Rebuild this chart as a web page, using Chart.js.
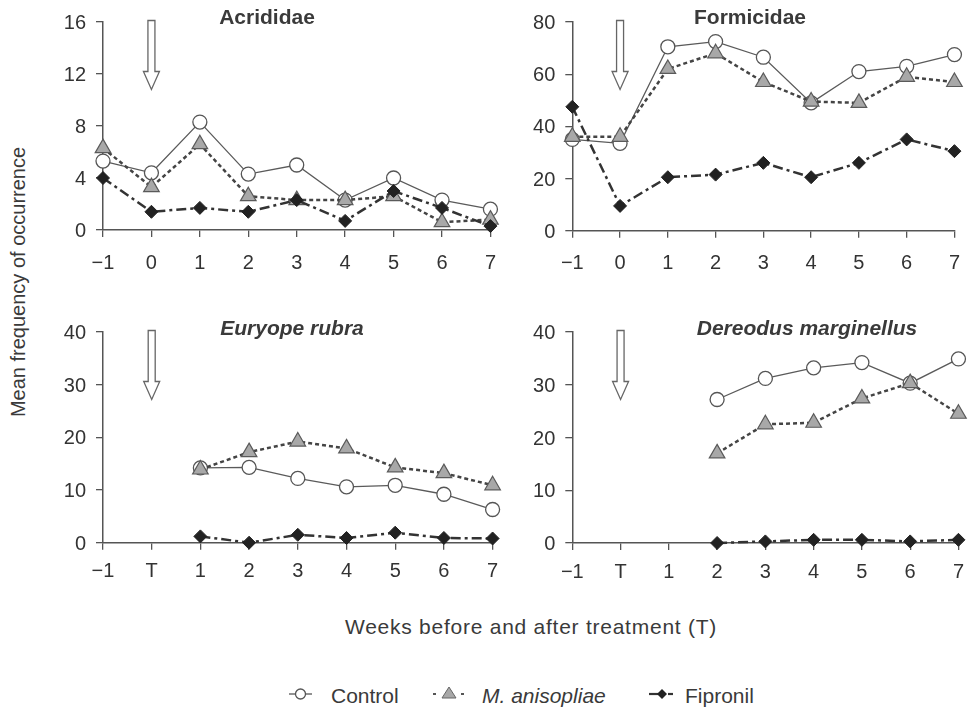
<!DOCTYPE html>
<html><head><meta charset="utf-8">
<script src="https://cdn.jsdelivr.net/npm/chart.js@4"></script>
<style>
html,body{margin:0;padding:0;background:#fff;}
#wrap{position:relative;width:974px;height:708px;overflow:hidden;font-family:"Liberation Sans",Arial,Helvetica,sans-serif;color:#3a3a3a;}
.pane{position:absolute;}
.ttl{position:absolute;font-weight:bold;font-size:21px;line-height:1;white-space:nowrap;transform:translate(-50%,-50%);}
.it{font-style:italic;}
.txt{position:absolute;font-size:21px;line-height:1;white-space:nowrap;transform:translateY(-50%);}
svg{position:absolute;overflow:visible;}
</style></head>
<body><div id="wrap">
<div class="pane" style="left:30px;top:0px;"><canvas id="c1" width="480" height="290"></canvas></div>
<div class="pane" style="left:500px;top:0px;"><canvas id="c2" width="474" height="290"></canvas></div>
<div class="pane" style="left:30px;top:310px;"><canvas id="c3" width="480" height="290"></canvas></div>
<div class="pane" style="left:500px;top:310px;"><canvas id="c4" width="474" height="290"></canvas></div>

<div class="ttl" style="left:267px;top:16px;">Acrididae</div>
<div class="ttl" style="left:750px;top:16px;">Formicidae</div>
<div class="ttl it" style="left:292px;top:327px;">Euryope rubra</div>
<div class="ttl it" style="left:807px;top:327px;">Dereodus marginellus</div>

<div class="txt" style="left:18px;top:282px;transform:translate(-50%,-50%) rotate(-90deg);font-size:20px;">Mean frequency of occurrence</div>
<div class="txt" style="left:531px;top:626px;transform:translate(-50%,-50%);letter-spacing:0.75px;">Weeks before and after treatment (T)</div>

<svg style="left:289px;top:684px;" width="24" height="20"><line x1="0" y1="10" x2="23" y2="10" stroke="#555" stroke-width="1.3"/><circle cx="11.5" cy="10" r="5" fill="#fff" stroke="#555" stroke-width="1.3"/></svg>
<div class="txt" style="left:331px;top:695px;">Control</div>
<svg style="left:431px;top:684px;" width="36" height="20"><line x1="2" y1="10" x2="5" y2="10" stroke="#555" stroke-width="2"/><polygon points="18,3 25,14 11,14" fill="#a8a8a8" stroke="#666" stroke-width="1"/><line x1="30" y1="10" x2="33" y2="10" stroke="#555" stroke-width="2"/></svg>
<div class="txt it" style="left:482px;top:695px;">M. anisopliae</div>
<svg style="left:649px;top:684px;" width="26" height="20"><line x1="0" y1="10" x2="12" y2="10" stroke="#333" stroke-width="2.2"/><polygon points="13,5 18,10 13,15 8,10" fill="#222"/><line x1="19" y1="10" x2="24" y2="10" stroke="#333" stroke-width="2.2"/></svg>
<div class="txt" style="left:685px;top:695px;">Fipronil</div>
</div>
<script>
// ---- data ----
const weeksTop = ['\u22121','0','1','2','3','4','5','6','7'];
const weeksBottom = ['\u22121','T','1','2','3','4','5','6','7'];

const acrControl = [5.3, 4.4, 8.3, 4.3, 5.0, 2.3, 4.0, 2.3, 1.6];
const acrMani    = [6.3, 3.3, 6.6, 2.6, 2.3, 2.3, 2.6, 0.6, 0.8];
const acrFip     = [4.0, 1.4, 1.7, 1.4, 2.3, 0.7, 3.0, 1.7, 0.3];

const forControl = [35, 33.5, 70.5, 72.5, 66.5, 49, 61, 63, 67.5];
const forMani    = [36, 36, 62, 68, 57, 49.5, 49, 59, 57];
const forFip     = [47.5, 9.5, 20.5, 21.5, 26, 20.5, 26, 35, 30.5];

const eurControl = [null, null, 14.2, 14.3, 12.2, 10.6, 10.9, 9.2, 6.3];
const eurMani    = [null, null, 13.9, 17.2, 19.2, 17.9, 14.3, 13.2, 10.9];
const eurFip     = [null, null, 1.2, 0.0, 1.5, 0.9, 1.9, 0.9, 0.8];

const derControl = [null, null, null, 27.2, 31.2, 33.2, 34.2, 30.3, 34.9];
const derMani    = [null, null, null, 17.0, 22.5, 22.8, 27.4, 30.3, 24.5];
const derFip     = [null, null, null, 0.0, 0.3, 0.6, 0.6, 0.3, 0.6];

const seriesNames = ['Control', 'M. anisopliae', 'Fipronil'];
const treatmentIndex = 1;

// ---- drawing ----
const FONT = '"Liberation Sans", Arial, Helvetica, sans-serif';
const arrowPlugin = {
  id: 'arrow',
  afterDatasetsDraw(chart) {
    const ctx = chart.ctx, x = chart.scales.x.getPixelForValue(treatmentIndex);
    const t = chart.chartArea.top - 1.5;
    const hs = t + 51, tip = t + 69, sw = 3.5, hw = 8;
    ctx.save();
    ctx.beginPath();
    ctx.moveTo(x - sw, t); ctx.lineTo(x + sw, t); ctx.lineTo(x + sw, hs);
    ctx.lineTo(x + hw, hs); ctx.lineTo(x, tip); ctx.lineTo(x - hw, hs);
    ctx.lineTo(x - sw, hs); ctx.closePath();
    ctx.fillStyle = '#fff'; ctx.fill();
    ctx.strokeStyle = '#666'; ctx.lineWidth = 1.3; ctx.stroke();
    ctx.restore();
  }
};

function makePanel(id, labels, series, yMax, yStep, labelEvery, g) {
  const axisGrid = {display: true, drawOnChartArea: false, drawTicks: true, tickLength: 7, color: '#555', lineWidth: 1.3};
  const axisBorder = {display: true, color: '#555', width: 1.5};
  new Chart(document.getElementById(id), {
    type: 'line',
    data: {
      labels: labels,
      datasets: [
        {label: seriesNames[0], data: series[0], borderColor: '#5a5a5a', borderWidth: 1.3,
         pointStyle: 'circle', pointRadius: 7, pointBackgroundColor: '#fff', pointBorderColor: '#555', pointBorderWidth: 1.3,
         order: 3, clip: false, tension: 0},
        {label: seriesNames[1], data: series[1], borderColor: '#444', borderWidth: 2.5, borderDash: [4, 3],
         pointStyle: 'triangle', pointRadius: 9, pointBackgroundColor: '#a8a8a8', pointBorderColor: '#5a5a5a', pointBorderWidth: 1.2,
         order: 2, clip: false, tension: 0},
        {label: seriesNames[2], data: series[2], borderColor: '#333', borderWidth: 2.5, borderDash: [10, 4, 3, 4],
         pointStyle: 'rectRot', pointRadius: 6.5, pointBackgroundColor: '#222', pointBorderColor: '#222', pointBorderWidth: 1,
         order: 1, clip: false, tension: 0}
      ]
    },
    options: {
      responsive: false, animation: false, events: [],
      layout: {padding: {left: 0, top: g.top, right: g.right, bottom: 0}},
      plugins: {legend: {display: false}, tooltip: {enabled: false}, title: {display: false}},
      scales: {
        x: {type: 'category', offset: false, grid: axisGrid, border: axisBorder,
            ticks: {color: '#333', font: {size: 20, family: FONT}, padding: g.xpad, maxRotation: 0, autoSkip: false},
            afterFit(s) { s.height = g.xh; }},
        y: {min: 0, max: yMax, grid: axisGrid, border: axisBorder,
            ticks: {stepSize: yStep, color: '#333', font: {size: 20, family: FONT}, padding: 10, labelOffset: 1.5,
                    callback: v => (v % labelEvery === 0 ? String(v) : '')},
            afterFit(s) { s.width = g.yw; }}
      }
    },
    plugins: [arrowPlugin]
  });
}

makePanel('c1', weeksTop, [acrControl, acrMani, acrFip], 16, 2, 4, {top: 16, right: 17.4, xh: 60, yw: 73, xpad: 14});
makePanel('c2', weeksTop, [forControl, forMani, forFip], 80, 10, 20, {top: 17, right: 13.3, xh: 59.3, yw: 72.3, xpad: 14});
makePanel('c3', weeksBottom, [eurControl, eurMani, eurFip], 40, 5, 10, {top: 20, right: 17.4, xh: 57.3, yw: 73, xpad: 10});
makePanel('c4', weeksBottom, [derControl, derMani, derFip], 40, 5, 10, {top: 20, right: 13.3, xh: 57, yw: 72.3, xpad: 10});
</script>
</body></html>
